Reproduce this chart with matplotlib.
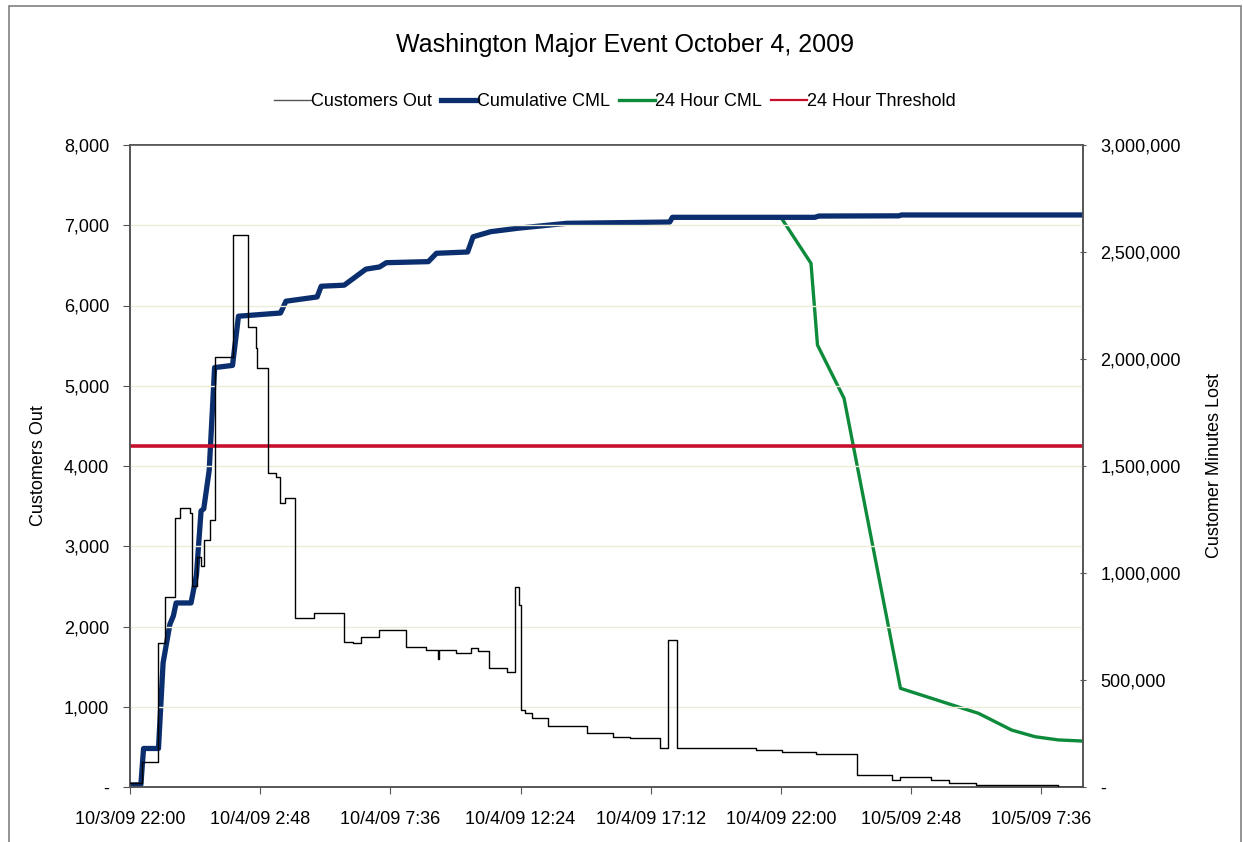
# Washington major event, Oct 4 2009 - customers out and customer minutes lost
import matplotlib
matplotlib.use('Agg')
from matplotlib import pyplot as plt
from matplotlib.patches import Rectangle
from matplotlib.ticker import FuncFormatter

plt.rcParams['font.family'] = ['Liberation Sans', 'DejaVu Sans']

# hours since 10/3/09 22:00
x_ticks = [0, 4.8, 9.6, 14.4, 19.2, 24.0, 28.8, 33.6]
x_labels = ['10/3/09 22:00', '10/4/09 2:48', '10/4/09 7:36', '10/4/09 12:24',
            '10/4/09 17:12', '10/4/09 22:00', '10/5/09 2:48', '10/5/09 7:36']

# Customers Out (step data)
out_hours = [0, 0.44, 1.05, 1.30, 1.66, 1.84, 2.21, 2.28, 2.46, 2.60, 2.74, 2.95, 3.12,
             3.78, 4.36, 4.63, 4.70, 5.09, 5.40, 5.52, 5.70, 6.07, 6.79, 7.88, 8.23,
             8.52, 9.18, 10.17, 10.91, 11.34, 11.40, 12.01, 12.56, 12.85, 13.22, 13.91,
             14.21, 14.33, 14.40, 14.58, 14.83, 15.42, 16.85, 17.81, 18.44, 19.54, 19.83,
             20.16, 23.09, 24.05, 25.29, 26.81, 28.09, 28.41, 29.53, 30.19, 31.18, 34.23,
             35.14]
customers_out = [50, 315, 1790, 2370, 3350, 3475, 3420, 2500, 2870, 2750, 3080, 3330, 5360,
                 6880, 5730, 5470, 5220, 3910, 3860, 3540, 3600, 2100, 2170, 1810, 1790,
                 1870, 1955, 1750, 1710, 1600, 1710, 1670, 1735, 1690, 1480, 1435,
                 2495, 2270, 960, 920, 860, 765, 670, 625, 605, 485, 1830,
                 485, 460, 435, 410, 150, 90, 125, 90, 50, 25, 5,
                 5]

# Cumulative CML
cml_hours = [0, 0.40, 0.50, 1.05, 1.22, 1.47, 1.60, 1.70, 2.25, 2.45, 2.62, 2.72, 2.92,
             3.12, 3.78, 4.00, 5.55, 5.75, 6.90, 7.05, 7.90, 8.70, 9.20, 9.45, 11.00,
             11.30, 12.45, 12.65, 13.30, 14.30, 16.10, 19.90, 20.00, 24.00, 25.25, 25.40,
             28.35, 28.45, 35.14]
cumulative_cml = [10000, 10000, 180000, 180000, 580000, 760000, 800000, 860000, 860000,
                  990000, 1290000, 1300000, 1480000, 1960000, 1970000, 2200000, 2215000,
                  2270000, 2290000, 2340000, 2345000, 2420000, 2430000, 2450000, 2455000,
                  2494000, 2500000, 2571000, 2595000, 2611000, 2634000, 2640000, 2662000,
                  2662000, 2662000, 2668000, 2669000, 2673000, 2673000]

# 24 Hour CML: same as cumulative until 24 h, then rolling window drops
day_hours = cml_hours[:34] + [25.11, 25.35, 26.33, 28.41, 31.29, 32.51, 33.37, 34.23, 35.07]
day_cml = cumulative_cml[:34] + [2447000, 2065000, 1816000, 461000, 344000, 266000,
                                 235000, 220000, 215000]

threshold = 1593000

fig = plt.figure(figsize=(12.43, 8.42), dpi=100)
fig.patches.append(Rectangle((9 / 1243, -0.01), (1241 - 9) / 1243, 1.01 - 6 / 842,
                             transform=fig.transFigure, fill=False,
                             edgecolor='#808080', linewidth=1.2))

ax = fig.add_axes([130 / 1243, 1 - 787 / 842, (1083 - 130) / 1243, (787 - 145) / 842])
ax2 = ax.twinx()

ax.step(out_hours, customers_out, where='post', color='black', lw=1.0, zorder=3)

# green drawn under the blue, so it only shows once the 24 h window starts dropping
ax2.plot(day_hours, day_cml, color='#0d8a3a', lw=2.4, zorder=2)
ax2.plot(cml_hours, cumulative_cml, color='#0b2f6e', lw=3.8, zorder=3)
ax2.axhline(threshold, color='#c8102e', lw=2.6, zorder=4)

# keep black step line above twin axis
ax.set_zorder(ax2.get_zorder() + 1)
ax.patch.set_visible(False)

ax.set_xlim(0, 35.14)
ax.set_ylim(0, 8000)
ax2.set_ylim(0, 3000000)

ax.set_yticks(range(0, 8001, 1000))
ax2.set_yticks(range(0, 3000001, 500000))
ax.yaxis.set_major_formatter(FuncFormatter(lambda v, p: '-' if v == 0 else f'{int(v):,}'))
ax2.yaxis.set_major_formatter(FuncFormatter(lambda v, p: '-' if v == 0 else f'{int(v):,}'))
ax.set_xticks(x_ticks)
ax.set_xticklabels(x_labels)

for a in (ax, ax2):
    for s in a.spines.values():
        s.set_color('#555555')
        s.set_linewidth(1.2)
ax.tick_params(axis='both', labelsize=13, length=5, color='#555555', pad=12)
ax.tick_params(axis='y', pad=10)
ax2.tick_params(axis='y', labelsize=13, length=5, color='#555555', direction='inout', pad=10)

ax.grid(axis='y', color='#ecebd8', lw=1.0)
ax.set_axisbelow(True)

ax.set_ylabel('Customers Out', fontsize=13, labelpad=12)
ax2.set_ylabel('Customer Minutes Lost', fontsize=13, labelpad=18)

fig.text(625 / 1243, 1 - 45 / 842, 'Washington Major Event October 4, 2009',
         ha='center', va='center', fontsize=18)

handles = [plt.Line2D([], [], color='#555555', lw=1.0),
           plt.Line2D([], [], color='#0b2f6e', lw=3.8),
           plt.Line2D([], [], color='#0d8a3a', lw=2.4),
           plt.Line2D([], [], color='#c8102e', lw=1.6)]
fig.legend(handles, ['Customers Out', 'Cumulative CML', '24 Hour CML', '24 Hour Threshold'],
           loc='center', bbox_to_anchor=(615 / 1243, 1 - 102 / 842), ncol=4, frameon=False,
           fontsize=13, handlelength=2.0, handletextpad=0.0, columnspacing=0.5)

plt.savefig('out.png', dpi=100)
